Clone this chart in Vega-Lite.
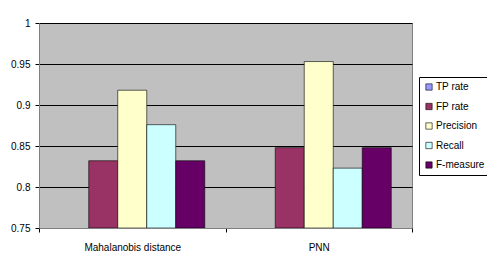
{
  "$schema": "https://vega.github.io/schema/vega-lite/v6.json",
  "width": 373,
  "height": 205,
  "autosize": {"type": "none"},
  "padding": {"left": 39, "top": 23, "right": 75, "bottom": 42},
  "background": "white",
  "config": {
    "font": "Liberation Sans",
    "view": {"fill": "#C0C0C0", "stroke": "#808080", "strokeWidth": 1}
  },
  "data": {
    "values": [
      {"method": "Mahalanobis distance", "measure": "TP rate", "value": null},
      {"method": "Mahalanobis distance", "measure": "FP rate", "value": 0.832},
      {"method": "Mahalanobis distance", "measure": "Precision", "value": 0.918},
      {"method": "Mahalanobis distance", "measure": "Recall", "value": 0.876},
      {"method": "Mahalanobis distance", "measure": "F-measure", "value": 0.832},
      {"method": "PNN", "measure": "TP rate", "value": null},
      {"method": "PNN", "measure": "FP rate", "value": 0.848},
      {"method": "PNN", "measure": "Precision", "value": 0.953},
      {"method": "PNN", "measure": "Recall", "value": 0.823},
      {"method": "PNN", "measure": "F-measure", "value": 0.848}
    ]
  },
  "mark": {"type": "bar", "stroke": "#000000", "strokeWidth": 0.6, "clip": true},
  "encoding": {
    "x": {
      "field": "method",
      "type": "nominal",
      "sort": null,
      "title": null,
      "scale": {"paddingInner": 0, "paddingOuter": 0},
      "axis": {
        "labelAngle": 0,
        "labelFontSize": 10,
        "labelColor": "#000000",
        "labelPadding": 10,
        "tickBand": "extent",
        "tickColor": "#000000",
        "tickSize": 4,
        "domainColor": "#808080",
        "grid": false
      }
    },
    "xOffset": {
      "field": "measure",
      "type": "nominal",
      "sort": ["TP rate", "FP rate", "Precision", "Recall", "F-measure"],
      "scale": {
        "domain": ["TP rate", "FP rate", "Precision", "Recall", "F-measure"],
        "paddingInner": 0,
        "paddingOuter": 0.715
      }
    },
    "y": {
      "field": "value",
      "type": "quantitative",
      "title": null,
      "scale": {"domain": [0.75, 1], "zero": false, "nice": false},
      "axis": {
        "values": [0.75, 0.8, 0.85, 0.9, 0.95, 1],
        "format": "~g",
        "labelFontSize": 10,
        "labelColor": "#000000",
        "labelPadding": 5,
        "tickColor": "#000000",
        "tickSize": 4,
        "domainColor": "#808080",
        "grid": true,
        "gridColor": "#000000",
        "gridOpacity": 1,
        "gridWidth": 1
      }
    },
    "y2": {"datum": 0.75},
    "fill": {
      "field": "measure",
      "type": "nominal",
      "sort": ["TP rate", "FP rate", "Precision", "Recall", "F-measure"],
      "scale": {
        "domain": ["TP rate", "FP rate", "Precision", "Recall", "F-measure"],
        "range": ["#9999FF", "#993366", "#FFFFCC", "#CCFFFF", "#660066"]
      },
      "legend": {
        "title": null,
        "orient": "none",
        "legendX": 380,
        "legendY": 54,
        "symbolType": "square",
        "symbolSize": 40,
        "symbolStrokeColor": "#000000",
        "symbolStrokeWidth": 0.6,
        "labelFontSize": 10,
        "labelColor": "#000000",
        "labelOffset": 2,
        "rowPadding": 9.5,
        "padding": 5,
        "strokeColor": "#000000",
        "fillColor": "#FFFFFF"
      }
    }
  }
}
